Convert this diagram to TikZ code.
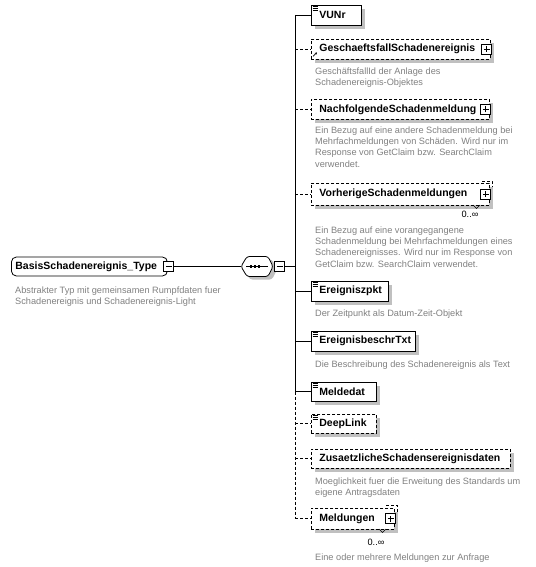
\documentclass[tikz,border=0pt]{standalone}
\usepackage{fontspec}
\setmainfont{Liberation Sans}
\usetikzlibrary{shadows,arrows.meta}
\definecolor{shadowgray}{RGB}{192,192,192}
\definecolor{descgray}{RGB}{128,128,128}
\newcommand\elemfont{\fontsize{10.5}{12}\selectfont\bfseries}
\newcommand\descfont{\fontsize{9.2}{11.3}\selectfont}
\newcommand\lbox[2]{\makebox[#1][l]{#2}}
\begin{document}
\begin{tikzpicture}[x=1pt,y=-1pt,
  conn/.style={line width=0.8pt, black},
  optline/.style={line width=0.8pt, dash pattern=on 3pt off 2pt},
  elem/.style={draw=black, line width=0.8pt, fill=white, minimum height=20pt,
    inner xsep=8pt, inner ysep=0pt, anchor=west, font=\elemfont,
    drop shadow={shadow xshift=4pt, shadow yshift=-4pt, opacity=1, fill=shadowgray}},
  optelem/.style={elem, dash pattern=on 3pt off 2pt},
  desc/.style={anchor=base west, align=left, inner sep=0pt, font=\descfont, text=descgray},
  occ/.style={inner sep=0pt, font=\descfont, text=black},
  pmbox/.style={draw=black, line width=0.8pt, fill=white, minimum size=10pt, inner sep=0pt},
  sym/.style={line width=0.8pt},
  icon/.style={line width=0.5pt}]
\useasboundingbox (0,0) rectangle (535,567);

% spine coordinate
\coordinate (sp) at (295,0);

% ---- type node ----
\node[draw=black, line width=0.8pt, fill=white, rounded corners=5pt, anchor=west,
      minimum height=19pt, inner xsep=4pt, inner ysep=0pt, font=\elemfont]
      (type) at (11,266.5) {\lbox{148pt}{BasisSchadenereignis\_Type}};
\node[pmbox] (typem) at ([xshift=1pt]type.east) {};
\draw[sym] ([xshift=-3pt]typem.center) -- ([xshift=3pt]typem.center);
% base anchor of multi-line nodes = baseline of the last line
\node[desc] (typed) at (15,304.8) {Abstrakter Typ mit gemeinsamen Rumpfdaten fuer\\Schadenereignis und Schadenereignis-Light};

% ---- sequence node ----
\fill[shadowgray, rounded corners=2.5pt] (244,269.5) -- (250,259.5) -- (272,259.5) -- (277,269.5) -- (272,279.5) -- (250,279.5) -- cycle;
\draw[line width=0.8pt, fill=white, rounded corners=2.5pt] (241,266.5) -- (247,256.5) -- (268,256.5) -- (273,266.5) -- (268,276.5) -- (247,276.5) -- cycle;
\node[inner sep=0pt, minimum width=32pt, minimum height=20pt] (seq) at (257,266.5) {};
\draw[line width=0.8pt] (246,266.5) -- (268,266.5);
\foreach \xx in {251,255,259} \fill (\xx-1.25,265.25) rectangle (\xx+1.25,267.75);
\node[pmbox] (seqm) at (279.5,266.5) {};
\draw[sym] ([xshift=-3pt]seqm.center) -- ([xshift=3pt]seqm.center);
\draw[conn] (typem.east) -- (seq.west);

% ---- elements ----
\node[elem] (vunr) at (311,15) {\lbox{34pt}{VUNr}};
\node[optelem] (gsf) at (311,49) {\lbox{163pt}{GeschaeftsfallSchadenereignis}};
\node[optelem] (nsm) at (311,109.5) {\lbox{162pt}{NachfolgendeSchadenmeldung}};
\draw[optline, line width=0.6pt] (482,181) -- (492,181) -- (492,190);
\node[optelem, minimum height=22pt] (vsm) at (311,194) {\lbox{162pt}{VorherigeSchadenmeldungen}};
\node[elem] (ezp) at (311,291) {\lbox{61pt}{Ereigniszpkt}};
\node[elem] (ebt) at (311,341) {\lbox{88pt}{EreignisbeschrTxt}};
\node[elem, minimum height=19pt] (mdt) at (311,391.5) {\lbox{49pt}{Meldedat}};
\node[optelem, minimum height=19pt] (dpl) at (311,423.5) {\lbox{49pt}{DeepLink}};
\node[optelem, minimum height=19pt] (zsd) at (311,458.5) {\lbox{183pt}{ZusaetzlicheSchadensereignisdaten}};
\draw[optline, line width=0.6pt] (386,505) -- (397,505) -- (397,514);
\node[optelem, minimum height=21pt] (mel) at (311,518.5) {\lbox{67pt}{Meldungen}};

% multiplicity notches
\draw[line width=0.6pt] (473,205) -- (476.5,208.5) -- (480,205);
\draw[line width=0.6pt] (379,529) -- (382.5,532.5) -- (386,529);

% simple-type icons
\foreach \n in {vunr,ezp,ebt,mdt,dpl}
  \foreach \d in {1.6,3.6,5.6}
    \draw[icon] ([xshift=1.5pt,yshift=-\d pt]\n.north west) -- ++(5,0);
% reference arrow
\draw[icon, line width=0.6pt, -{Stealth[length=2.2pt,width=2.2pt]}] ([xshift=2pt,yshift=3pt]gsf.south west) -- ++(4,-4);

% plus boxes
\foreach \n in {gsf,nsm,vsm,mel}{
  \node[pmbox] (\n p) at ([xshift=-4pt]\n.east) {};
  \draw[sym] ([xshift=-3pt]\n p.center) -- ([xshift=3pt]\n p.center);
  \draw[sym] ([yshift=-3pt]\n p.center) -- ([yshift=3pt]\n p.center);
}

% occurrence labels
\node[occ] (vsmo) at (470,214) {0..∞};
\node[occ] (melo) at (376,542) {0..∞};

% ---- spine and connectors ----
\draw[conn] (vunr.west -| sp) -- (mdt.west -| sp);
\draw[optline] (mdt.west -| sp) -- (mel.west -| sp);
\draw[conn] (seqm.east) -- (seqm.east -| sp);
\foreach \n in {vunr,ezp,ebt,mdt} \draw[conn] (\n.west -| sp) -- (\n.west);
\foreach \n in {gsf,nsm,vsm,dpl,zsd,mel} \draw[optline] (\n.west -| sp) -- (\n.west);

% ---- descriptions (base = last line's baseline) ----
\node[desc] (gsfd) at (315,85.6) {GeschäftsfallId der Anlage des\\Schadenereignis-Objektes};
\node[desc] (nsmd) at (315,167.2) {Ein Bezug auf eine andere Schadenmeldung bei\\Mehrfachmeldungen von Schäden. Wird nur im\\Response von GetClaim bzw. SearchClaim\\verwendet.};
\node[desc] (vsmd) at (315,267.2) {Ein Bezug auf eine vorangegangene\\Schadenmeldung bei Mehrfachmeldungen eines\\Schadenereignisses. Wird nur im Response von\\GetClaim bzw. SearchClaim verwendet.};
\node[desc] (ezpd) at (315,316.3) {Der Zeitpunkt als Datum-Zeit-Objekt};
\node[desc] (ebtd) at (315,367.3) {Die Beschreibung des Schadenereignis als Text};
\node[desc] (zsdd) at (315,495.6) {Moeglichkeit fuer die Erweitung des Standards um\\eigene Antragsdaten};
\node[desc] (meld) at (315,560.3) {Eine oder mehrere Meldungen zur Anfrage};
\end{tikzpicture}
\end{document}
